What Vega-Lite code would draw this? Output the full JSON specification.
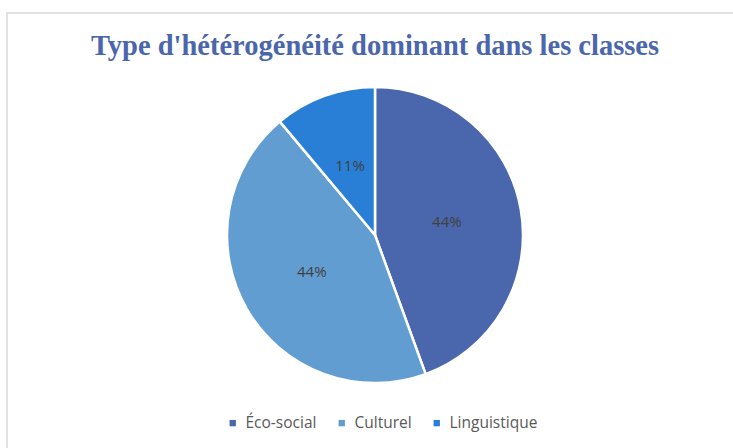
{
  "$schema": "https://vega.github.io/schema/vega-lite/v6.json",
  "autosize": "none",
  "padding": {"left": 7, "top": 13, "right": 0, "bottom": 0},
  "width": 736,
  "height": 444,
  "background": "white",
  "view": {"stroke": "#d9d9d9", "strokeWidth": 1.5},
  "title": {
    "text": "Type d'hétérogénéité dominant dans les classes",
    "font": "Liberation Serif",
    "fontSize": 28.5,
    "fontWeight": "bold",
    "color": "#4a66ac",
    "anchor": "middle",
    "frame": "group",
    "baseline": "alphabetic",
    "offset": -70
  },
  "data": {
    "values": [
      {"type": "Éco-social", "part": 0.444, "ordre": 1},
      {"type": "Culturel", "part": 0.444, "ordre": 2},
      {"type": "Linguistique", "part": 0.111, "ordre": 3}
    ]
  },
  "encoding": {
    "theta": {"field": "part", "type": "quantitative", "stack": true},
    "order": {"field": "ordre", "type": "quantitative"}
  },
  "layer": [
    {
      "mark": {"type": "arc", "outerRadius": 148, "stroke": "white", "strokeWidth": 2.5},
      "encoding": {
        "color": {
          "field": "type",
          "type": "nominal",
          "scale": {
            "domain": ["Éco-social", "Culturel", "Linguistique"],
            "range": ["#4a66ac", "#629dd1", "#297fd5"]
          },
          "sort": ["Éco-social", "Culturel", "Linguistique"],
          "legend": {
            "title": null,
            "orient": "none",
            "direction": "horizontal",
            "legendX": 218,
            "legendY": 402,
            "symbolType": "square",
            "symbolSize": 40,
            "symbolStrokeWidth": 0,
            "labelFont": "Open Sans",
            "labelFontSize": 15.5,
            "labelColor": "#595959",
            "columnPadding": 17,
            "labelOffset": 5
          }
        }
      }
    },
    {
      "mark": {"type": "text", "radius": 73, "font": "Open Sans", "fontSize": 15, "color": "#404040"},
      "encoding": {
        "text": {"field": "part", "type": "quantitative", "format": ".0%"}
      }
    }
  ]
}
